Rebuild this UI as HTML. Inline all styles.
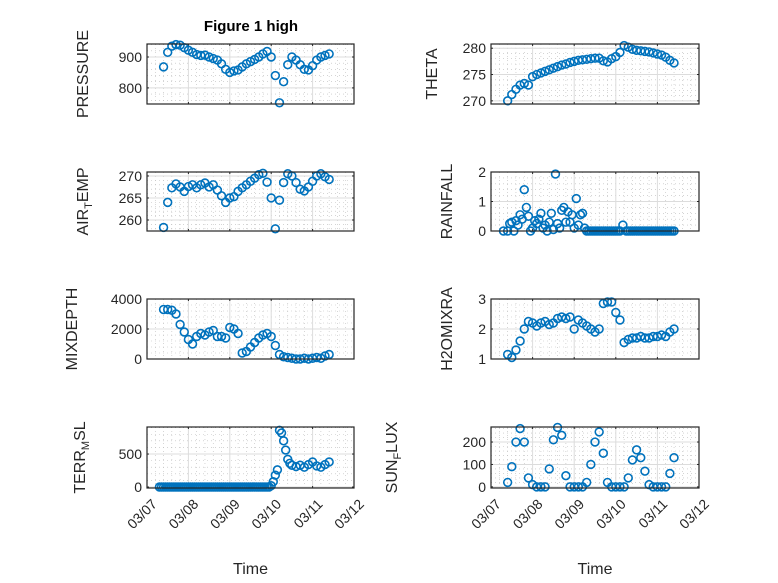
<!DOCTYPE html>
<html><head><meta charset="utf-8"><style>
body{margin:0;background:#fff;}
svg{display:block;font-family:"Liberation Sans","DejaVu Sans",sans-serif;}
</style></head><body>
<svg id="fig" width="778" height="583" viewBox="0 0 778 583">
<rect width="778" height="583" fill="#fff"/>
<text x="251" y="31" text-anchor="middle" font-size="15" font-weight="bold" fill="#000">Figure 1 high</text>
</svg>
<script>
const times = [0.4,0.5,0.6,0.7,0.8,0.9,1.0,1.1,1.2,1.3,1.4,1.5,1.6,1.7,1.8,1.9,2.0,2.1,2.2,2.3,2.4,2.5,2.6,2.7,2.8,2.9,3.0,3.1,3.2,3.3,3.4,3.5,3.6,3.7,3.8,3.9,4.0,4.1,4.2,4.3,4.4];
const xTickLabels = ["03/07","03/08","03/09","03/10","03/11","03/12"];
const pressure = [868,915,935,940,938,930,922,915,908,905,906,900,895,890,878,860,850,855,858,868,878,885,892,900,910,918,900,840,752,820,875,900,890,875,860,858,872,890,900,905,910];
const theta = [270.0,271.2,272.2,273.0,273.3,273.0,274.6,275.0,275.3,275.6,275.9,276.2,276.5,276.8,277.0,277.3,277.5,277.7,277.8,277.9,278.0,278.1,278.1,277.6,277.4,278.0,278.4,279.2,280.5,280.2,279.8,279.6,279.5,279.4,279.3,279.1,278.9,278.7,278.3,277.7,277.2];
const airTemp = [258.3,264.0,267.3,268.2,267.5,266.5,267.6,268.0,267.3,268.0,268.4,267.5,268.0,266.8,265.5,264.0,265.0,265.3,266.5,267.3,268.0,268.8,269.5,270.3,270.6,268.6,265.0,258.0,264.5,268.5,270.5,270.0,268.5,267.0,266.6,267.5,268.8,270.0,270.5,269.8,269.2];
const rainTimes = [0.3,0.4,0.45,0.5,0.55,0.6,0.65,0.7,0.75,0.8,0.85,0.9,0.95,1.0,1.05,1.1,1.15,1.2,1.25,1.3,1.35,1.4,1.45,1.5,1.55,1.6,1.65,1.7,1.75,1.8,1.85,1.9,1.95,2.0,2.05,2.1,2.15,2.2,2.25,2.3,2.35,2.4,2.45,2.5,2.55,2.6,2.65,2.7,2.75,2.8,2.85,2.9,2.95,3.0,3.05,3.1,3.17,3.25,3.3,3.35,3.4,3.45,3.5,3.55,3.6,3.65,3.7,3.75,3.8,3.85,3.9,3.95,4.0,4.05,4.1,4.15,4.2,4.25,4.3,4.35,4.4];
const rainfall = [0,0,0.25,0.3,0,0.35,0.2,0.55,0.4,1.4,0.8,0.5,0,0.1,0.35,0.25,0.4,0.6,0.1,0.2,0,0.3,0.6,0.05,1.93,0.25,0.1,0.7,0.8,0.3,0.65,0.3,0.55,0.1,1.1,0.2,0.55,0.6,0.1,0,0,0,0,0,0,0,0,0,0,0,0,0,0,0,0,0,0.2,0,0,0,0,0,0,0,0,0,0,0,0,0,0,0,0,0,0,0,0,0,0,0,0];
const mixDepth = [3300,3300,3250,3000,2300,1800,1300,1000,1500,1700,1600,1800,1900,1500,1500,1400,2100,2000,1700,400,500,800,1100,1400,1600,1700,1500,900,300,150,100,50,0,0,50,0,50,100,50,200,300];
const h2oMix = [1.15,1.05,1.3,1.6,2.0,2.25,2.2,2.1,2.2,2.25,2.15,2.2,2.35,2.4,2.35,2.4,2.0,2.3,2.2,2.1,2.0,1.9,2.0,2.85,2.9,2.9,2.55,2.3,1.55,1.65,1.7,1.7,1.75,1.7,1.7,1.75,1.75,1.8,1.75,1.9,2.0];
const terrTimes = [0.3,0.35,0.4,0.45,0.5,0.55,0.6,0.65,0.7,0.75,0.8,0.85,0.9,0.95,1.0,1.05,1.1,1.15,1.2,1.25,1.3,1.35,1.4,1.45,1.5,1.55,1.6,1.65,1.7,1.75,1.8,1.85,1.9,1.95,2.0,2.05,2.1,2.15,2.2,2.25,2.3,2.35,2.4,2.45,2.5,2.55,2.6,2.65,2.7,2.75,2.8,2.85,2.9,2.95,3.0,3.05,3.1,3.15,3.2,3.25,3.3,3.35,3.4,3.45,3.5,3.6,3.7,3.8,3.9,4.0,4.1,4.2,4.3,4.4];
const terrMsl = [0,0,0,0,0,0,0,0,0,0,0,0,0,0,0,0,0,0,0,0,0,0,0,0,0,0,0,0,0,0,0,0,0,0,0,0,0,0,0,0,0,0,0,0,0,0,0,0,0,0,0,0,0,0,20,80,180,260,860,820,700,560,420,360,330,310,330,300,340,380,320,300,340,380];
const sunFlux = [20,90,200,260,200,40,10,0,0,0,80,210,265,230,50,0,0,0,0,20,100,200,245,150,20,0,0,0,0,40,120,165,130,70,10,0,0,0,0,60,130];
const pressureTicks = [800,900];
const thetaTicks = [270,275,280];
const airTicks = [260,265,270];
const rainTicks = [0,1,2];
const mixTicks = [0,2000,4000];
const h2oTicks = [1,2,3];
const terrTicks = [0,500];
const sunTicks = [0,100,200];

const NS = "http://www.w3.org/2000/svg";
const svg = document.getElementById('fig');
function mk(tag, attrs, parent){const e=document.createElementNS(NS,tag);for(const k in attrs)e.setAttribute(k,attrs[k]);(parent||svg).appendChild(e);return e;}

const panels = [
 {key:'pressure',x0:147,x1:354,y0:44,y1:104,lo:748,hi:942,t:times,v:pressure,ticks:pressureTicks,label:['PRESSURE'],lx:88},
 {key:'theta',x0:491,x1:699,y0:44,y1:104,lo:269.4,hi:280.8,t:times,v:theta,ticks:thetaTicks,label:['THETA'],lx:437},
 {key:'air-temp',x0:147,x1:354,y0:172,y1:231,lo:257.5,hi:270.9,t:times,v:airTemp,ticks:airTicks,label:['AIR','T','EMP'],lx:88},
 {key:'rainfall',x0:491,x1:699,y0:172,y1:231,lo:0,hi:2,t:rainTimes,v:rainfall,ticks:rainTicks,label:['RAINFALL'],lx:452},
 {key:'mixdepth',x0:147,x1:354,y0:299,y1:359,lo:0,hi:4000,t:times,v:mixDepth,ticks:mixTicks,label:['MIXDEPTH'],lx:77},
 {key:'h2omixra',x0:491,x1:699,y0:299,y1:359,lo:1,hi:3,t:times,v:h2oMix,ticks:h2oTicks,label:['H2OMIXRA'],lx:452},
 {key:'terr-msl',x0:147,x1:354,y0:427,y1:488,lo:-15,hi:910,t:terrTimes,v:terrMsl,ticks:terrTicks,label:['TERR','M','SL'],lx:85,bottom:true},
 {key:'sun-flux',x0:491,x1:699,y0:427,y1:488,lo:-5,hi:267,t:times,v:sunFlux,ticks:sunTicks,label:['SUN','F','LUX'],lx:397,bottom:true}
];

panels.forEach(p=>{
 const g = mk('g',{});
 
 
 const xs = d => p.x0 + (d/5)*(p.x1-p.x0);
 const ys = v => p.y1 - (v-p.lo)/(p.hi-p.lo)*(p.y1-p.y0);
 for(let d=0.2; d<5; d+=0.2){ if(Math.abs(d-Math.round(d))<1e-6) continue;
   mk('line',{x1:xs(d),x2:xs(d),y1:p.y0,y2:p.y1,stroke:'#bbb','stroke-width':0.6,'stroke-dasharray':'1,3'},g);}
 const step = p.ticks[1]-p.ticks[0];
 for(let v=p.ticks[0]-step; v<=p.hi; v+=step/5){ if(v<p.lo||v>p.hi) continue;
   mk('line',{x1:p.x0,x2:p.x1,y1:ys(v),y2:ys(v),stroke:'#bbb','stroke-width':0.6,'stroke-dasharray':'1,3'},g);}
 for(let d=1; d<5; d++) mk('line',{x1:xs(d),x2:xs(d),y1:p.y0,y2:p.y1,stroke:'#dcdcdc','stroke-width':1},g);
 p.ticks.forEach(v=>{ mk('line',{x1:p.x0,x2:p.x1,y1:ys(v),y2:ys(v),stroke:'#dcdcdc','stroke-width':1},g);
   const tl = mk('text',{x:p.x0-5,y:ys(v)+5,'text-anchor':'end','font-size':14,fill:'#262626'},g);
   tl.textContent = v;
   
   
   mk('line',{x1:p.x0,x2:p.x0+2,y1:ys(v),y2:ys(v),stroke:'#262626'},g);
   mk('line',{x1:p.x1,x2:p.x1-2,y1:ys(v),y2:ys(v),stroke:'#262626'},g);
 });
 for(let d=0; d<=5; d++){ mk('line',{x1:xs(d),x2:xs(d),y1:p.y1,y2:p.y1-2,stroke:'#262626'},g); mk('line',{x1:xs(d),x2:xs(d),y1:p.y0,y2:p.y0+2,stroke:'#262626'},g);}
 const dg = mk('g',{fill:'none',stroke:'#0072BD','stroke-width':1.6},g);
 
 
 p.v.forEach((v,i)=>{
   const c = mk('circle',{cx:xs(p.t[i]),cy:ys(v),r:3.9},dg);
   
   
 });
 mk('rect',{x:p.x0,y:p.y0,width:p.x1-p.x0,height:p.y1-p.y0,fill:'none',stroke:'#262626','stroke-width':1.2},g);
 const cy = (p.y0+p.y1)/2;
 const yl = mk('text',{x:p.lx,y:cy,'text-anchor':'middle','font-size':16,fill:'#262626',transform:`rotate(-90 ${p.lx} ${cy})`},g);
 
 
 if(p.label.length===1){ yl.textContent=p.label[0]; }
 else{
   const a=mk('tspan',{},yl); a.textContent=p.label[0];
   const b=mk('tspan',{'font-size':11,dy:4},yl); b.textContent=p.label[1];
   const c=mk('tspan',{dy:-4},yl); c.textContent=p.label[2];
 }
 if(p.bottom){
   xTickLabels.forEach((lab,d)=>{
     const tx=xs(d)+4, ty=p.y1+10;
     const t = mk('text',{x:tx,y:ty,'text-anchor':'end','font-size':14,fill:'#262626',transform:`rotate(-45 ${tx} ${ty})`,dy:'0.7em'},g);
     t.textContent=lab;
     
     
   });
   const xl = mk('text',{x:(p.x0+p.x1)/2,y:574,'text-anchor':'middle','font-size':16,fill:'#262626'},g);
   xl.textContent='Time';
   
   
 }
});
</script>
</body></html>
